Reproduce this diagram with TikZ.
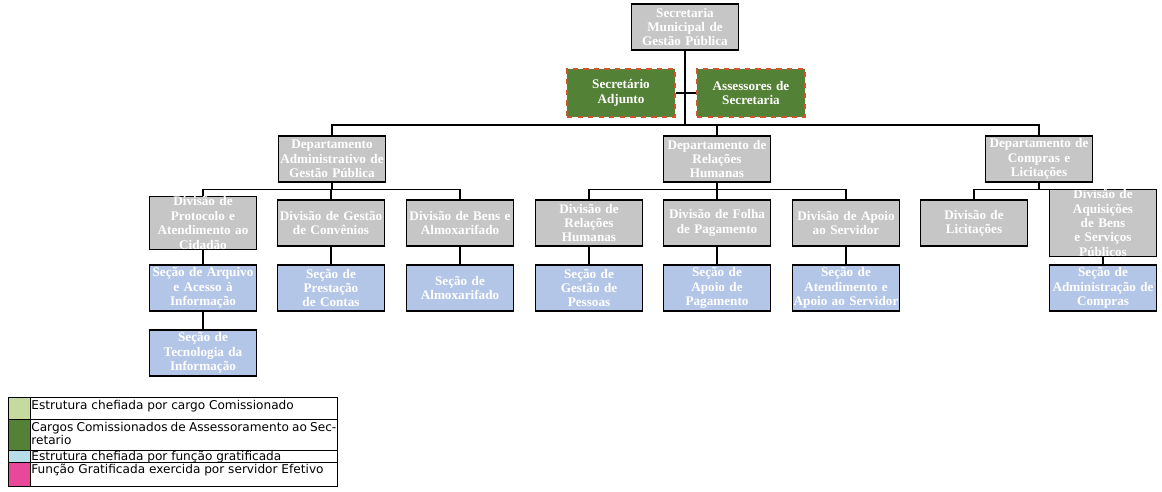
\documentclass[tikz,border=0pt]{standalone}
\usepackage{fontspec}
\usetikzlibrary{calc}
\setmainfont{Liberation Serif}
\newfontfamily\legfont{DejaVu Sans}
\definecolor{boxgray}{HTML}{C6C6C6}
\definecolor{boxgreen}{HTML}{538135}
\definecolor{boxblue}{HTML}{B4C6E7}
\definecolor{dashred}{HTML}{D0542B}
\definecolor{leglight}{HTML}{C4DA9E}
\definecolor{legcyan}{HTML}{B7DEE8}
\definecolor{legpink}{HTML}{E8479A}
\tikzset{
  unit/.style = {draw=black, thick, minimum width=2.14cm, minimum height=0.92cm, text width=2.1cm,
    align=center, inner sep=0pt, text=white, font=\fontsize{7.5}{8.2}\selectfont\bfseries},
  dept/.style = {unit, fill=boxgray},
  sect/.style = {unit, fill=boxblue},
  staff/.style = {unit, fill=boxgreen, draw=dashred, dashed, line width=1.2pt, minimum width=2.16cm, minimum height=0.96cm},
  link/.style = {thick}
}
\begin{document}
\begin{tikzpicture}[x=0.02cm, y=-0.02cm]
\useasboundingbox (0,0) rectangle (1162,491);

\node[dept] (top) at (685,27) {Secretaria\\Municipal de\\Gestão Pública};
\node[staff] (adj) at (621,93) {Secretário\\Adjunto};
\node[staff] (ass) at (751,93) {Assessores de\\Secretaria};

\node[dept] (dadm) at (332,159) {Departamento\\Administrativo de\\Gestão Pública};
\node[dept] (drh) at (717,159) {Departamento de\\Relações Humanas};
\node[dept] (dcomp) at (1039,159) {Departamento de\\Compras e\\Licitações};

\node[dept] (vprot) at (203,223) {Divisão de\\Protocolo e\\Atendimento ao\\Cidadão};
\node[dept] (vconv) at (331,223) {Divisão de Gestão\\de Convênios};
\node[dept] (vbens) at (460,223) {Divisão de Bens e\\Almoxarifado};
\node[dept] (vrh) at (589,223) {Divisão de\\Relações Humanas};
\node[dept] (vfolha) at (717,223) {Divisão de Folha\\de Pagamento};
\node[dept] (vapoio) at (846,223) {Divisão de Apoio\\ao Servidor};
\node[dept] (vlic) at (974,223) {Divisão de\\Licitações};
\node[dept] (vaqui) at (1103,223) {Divisão de\\Aquisições de Bens\\e Serviços Públicos};

\node[sect] (sarq) at (203,288) {Seção de Arquivo\\e Acesso à\\Informação};
\node[sect] (sprest) at (331,288) {Seção de Prestação\\de Contas};
\node[sect] (salmox) at (460,288) {Seção de\\Almoxarifado};
\node[sect] (spess) at (589,288) {Seção de Gestão de\\Pessoas};
\node[sect] (spag) at (717,288) {Seção de Apoio de\\Pagamento};
\node[sect] (sserv) at (846,288) {Seção de\\Atendimento e\\Apoio ao Servidor};
\node[sect] (scomp) at (1103,288) {Seção de\\Administração de\\Compras};
\node[sect] (sti) at (203,353) {Seção de\\Tecnologia da\\Informação};

\coordinate (bus) at (685,125);
\draw[link] (top) -- (bus);
\draw[link] (adj) -- (ass);
\draw[link] (dadm.north) |- (bus) -| (dcomp.north);
\draw[link] (bus) -| (drh.north);

\foreach \d/\a/\b in {dadm/vprot/vbens, drh/vrh/vapoio, dcomp/vlic/vaqui}{
  \coordinate (\d-bus) at ($(\d.south)+(0,7)$);
  \draw[link] (\d) -- (\d-bus);
  \draw[link] (\a.north) |- (\d-bus) -| (\b.north);
}
\draw[link] (vconv) -- (vconv |- dadm-bus);
\draw[link] (vfolha) -- (drh-bus);

\foreach \a/\b in {vprot/sarq, vconv/sprest, vbens/salmox, vrh/spess, vfolha/spag, vapoio/sserv, vaqui/scomp, sarq/sti}
  \draw[link] (\a) -- (\b);

% legenda
\begin{scope}[font=\legfont\fontsize{6.9}{7.4}\selectfont, every node/.style={inner sep=0pt}]
\draw[fill=leglight] (8,397) rectangle (30,419);
\draw[fill=boxgreen] (8,419) rectangle (30,450);
\draw[fill=legcyan] (8,450) rectangle (30,462);
\draw[fill=legpink] (8,462) rectangle (30,486);
\draw (30,397) rectangle (337,486);
\draw (30,419) -- (337,419);
\draw (30,450) -- (337,450);
\draw (30,462) -- (337,462);
\node[anchor=north west] (l1) at (31,400) {Estrutura chefiada por cargo Comissionado};
\node[anchor=north west, text width=6.1cm, align=justify] (l2) at (31,422) {Cargos Comissionados de Assessoramento ao Secretario};
\node[anchor=north west] (l3) at (31,451) {Estrutura chefiada por função gratificada};
\node[anchor=north west] (l4) at (31,464) {Função Gratificada exercida por servidor Efetivo};
\end{scope}
\end{tikzpicture}
\end{document}
